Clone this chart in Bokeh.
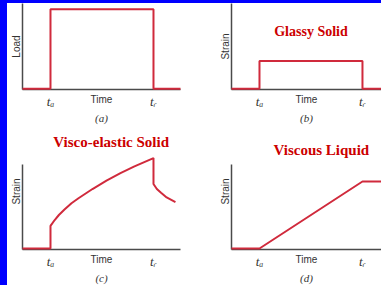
from bokeh.plotting import figure
from bokeh.layouts import gridplot
from bokeh.models import FixedTicker, Label, Range1d
from bokeh.embed import file_html
from bokeh.resources import INLINE

# ---------------- data ----------------
t_a = 2.0
t_r = 9.36
tick_labels = {t_a: "t\u2090", t_r: "t\u1d63"}
x_label = "Time"

# (a) load
time_a = [0.0, t_a, t_a, t_r, t_r, 11.29]
load_a = [0.0, 0.0, 1.0, 1.0, 0.0, 0.0]

# (b) glassy solid strain
time_b = [0.0, t_a, t_a, t_r, t_r, 10.72]
strain_b = [0.0, 0.0, 0.35, 0.35, 0.0, 0.0]

# (c) visco-elastic solid strain
time_c = [0.0, t_a, t_a, 2.3, 2.6, 3.0, 3.5, 4.0, 5.0, 6.0, 7.0, 8.0, t_r,
          t_r, 9.6, 9.9, 10.3, 10.93]
strain_c = [0.0, 0.0, 0.27, 0.34, 0.40, 0.465, 0.54, 0.60, 0.71, 0.81, 0.90, 0.98, 1.08,
            0.77, 0.71, 0.665, 0.61, 0.555]

# (d) viscous liquid strain
time_d = [0.0, t_a, t_r, 10.72]
strain_d = [0.0, 0.0, 0.80, 0.80]

captions = ["(a)", "(b)", "(c)", "(d)"]
y_labels = ["Load", "Strain", "Strain", "Strain"]
titles = ["", "Glassy Solid", "Visco-elastic Solid", "Viscous Liquid"]

# ---------------- style ----------------
RED = "#d02a3c"
TITLE_RED = "#cc0000"
AX = "#4a4a4a"
TXT = "#333333"
SERIF = "Liberation Serif"
SANS = "Liberation Sans"


def make_panel(xs, ys, x_end, y_range, y_bounds, ylabel, caption,
               width, height, mb_left, mb_right, mb_bottom):
    p = figure(width=width, height=height, x_range=Range1d(0, x_end),
               y_range=Range1d(*y_range), output_backend="svg",
               toolbar_location=None, min_border_left=mb_left,
               min_border_right=mb_right, min_border_top=0,
               min_border_bottom=mb_bottom)
    p.outline_line_color = None
    p.xgrid.visible = False
    p.ygrid.visible = False
    p.background_fill_color = "white"
    p.border_fill_color = "white"

    xa = p.xaxis[0]
    xa.ticker = FixedTicker(ticks=[t_a, t_r])
    xa.major_label_overrides = tick_labels
    xa.major_tick_line_color = None
    xa.minor_tick_line_color = None
    xa.major_tick_out = 0
    xa.major_tick_in = 0
    xa.major_label_standoff = 4
    xa.major_label_text_font = SERIF
    xa.major_label_text_font_style = "italic"
    xa.major_label_text_font_size = "13px"
    xa.major_label_text_color = TXT
    xa.axis_label = x_label
    xa.axis_label_text_font = SANS
    xa.axis_label_text_font_style = "normal"
    xa.axis_label_text_font_size = "10px"
    xa.axis_label_text_color = TXT
    xa.axis_label_standoff = -18
    xa.axis_line_color = AX
    xa.axis_line_width = 1.5

    ya = p.yaxis[0]
    ya.ticker = FixedTicker(ticks=[])
    ya.major_tick_line_color = None
    ya.minor_tick_line_color = None
    ya.major_label_text_font_size = "0px"
    ya.axis_label = ylabel
    ya.axis_label_text_font = SANS
    ya.axis_label_text_font_style = "normal"
    ya.axis_label_text_font_size = "10px"
    ya.axis_label_text_color = TXT
    ya.axis_label_standoff = 1
    ya.axis_line_color = AX
    ya.axis_line_width = 1.5
    if y_bounds is not None:
        ya.bounds = y_bounds

    p.title.text = caption
    p.title_location = "below"
    p.title.align = "center"
    p.title.text_font = SERIF
    p.title.text_font_style = "italic"
    p.title.text_font_size = "11px"
    p.title.text_color = TXT
    p.title.standoff = 4

    r = p.line(xs, ys, line_color=RED, line_width=2)
    r.level = "overlay"
    return p


TOP_Y = (-0.01, 1.072)
BOT_Y = (-0.0118, 1.373)
pa = make_panel(time_a, load_a, 11.29, TOP_Y, None, y_labels[0], captions[0],
                209, 130, 15, 36, 44)
pb = make_panel(time_b, strain_b, 10.72, TOP_Y, None, y_labels[1], captions[1],
                165, 130, 15, 0, 44)
pc = make_panel(time_c, strain_c, 11.29, BOT_Y, (BOT_Y[0], 1.0), y_labels[2], captions[2],
                209, 152, 15, 36, 35)
pd = make_panel(time_d, strain_d, 10.72, BOT_Y, (BOT_Y[0], 1.0), y_labels[3], captions[3],
                165, 152, 15, 0, 35)

pb.add_layout(Label(x=(t_a + t_r) / 2, y=0.72, text=titles[1], text_align="center",
                    text_baseline="middle", text_font=SERIF, text_font_style="bold",
                    text_font_size="14px", text_color=TITLE_RED))
pc.add_layout(Label(x=2.2, y=1.27, text=titles[2], text_align="left",
                    text_baseline="middle", text_font=SERIF, text_font_style="bold",
                    text_font_size="15px", text_color=TITLE_RED))
pd.add_layout(Label(x=3.0, y=1.18, text=titles[3], text_align="left",
                    text_baseline="middle", text_font=SERIF, text_font_style="bold",
                    text_font_size="15px", text_color=TITLE_RED))

grid = gridplot([[pa, pb], [pc, pd]], toolbar_location=None)

TEMPLATE = """
{% block postamble %}
<style>
html { background: linear-gradient(#0000ff, #0000ff) left top / 7px 100% no-repeat,
                   linear-gradient(#0000ff, #0000ff) left top / 100% 3px no-repeat, #ffffff; }
body { padding: 3px 0 0 7px; overflow: hidden; }
</style>
{% endblock %}
"""

html = file_html(grid, INLINE, title="Viscoelastic response", template=TEMPLATE)
with open("out.html", "w") as f:
    f.write(html)
